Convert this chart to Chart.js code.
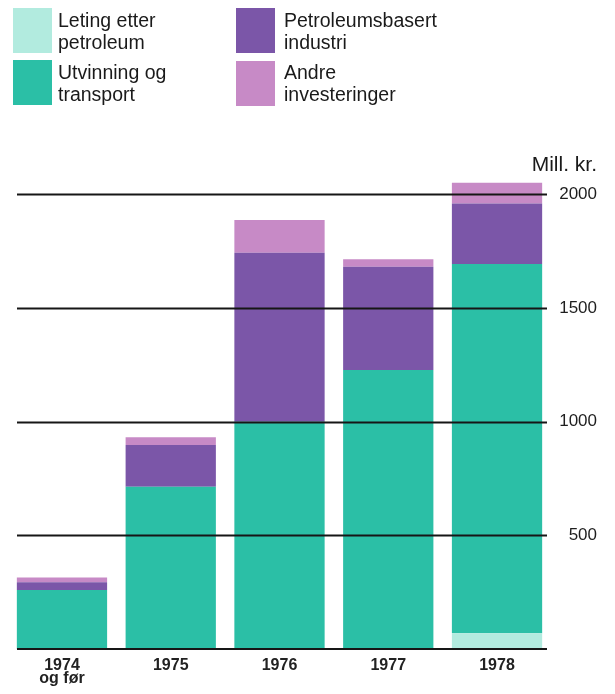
<!DOCTYPE html>
<html>
<head>
<meta charset="utf-8">
<script src="https://cdn.jsdelivr.net/npm/chart.js@4/dist/chart.umd.min.js"></script>
<style>
  html, body { margin: 0; padding: 0; background: #fff; }
  #wrap { position: relative; width: 615px; height: 694px; overflow: hidden; }
  canvas { position: absolute; left: 0; top: 0; }
  .sw { position: absolute; width: 39px; height: 45px; }
  .lt { position: absolute; font-family: 'Liberation Sans', Arial, sans-serif; font-size: 19.5px; line-height: 21.5px; color: #1a1a1a; white-space: nowrap; }
  #unit { position: absolute; right: 18px; top: 153px; font-family: 'Liberation Sans', Arial, sans-serif; font-size: 21px; line-height: 21px; color: #1a1a1a; }
</style>
</head>
<body>
<div id="wrap">
  <canvas id="c" width="615" height="694"></canvas>
  <div id="legend"></div>
  <div id="unit">Mill. kr.</div>
</div>
<script>
// ---- data ----
const categories = [["1974", "og før"], "1975", "1976", "1977", "1978"];
const seriesNames = [["Leting etter", "petroleum"], ["Utvinning og", "transport"], ["Petroleumsbasert", "industri"], ["Andre", "investeringer"]];
const letingEtterPetroleum = [0, 0, 0, 0, 69];
const utvinningOgTransport = [259, 714, 1000, 1227, 1624];
const petroleumsbasertIndustri = [35, 183, 743, 454, 267];
const andreInvesteringer = [20, 34, 144, 33, 91];
const yTickValues = [500, 1000, 1500, 2000];
const yTickLabels = ["500", "1000", "1500", "2000"];
const unitLabel = "Mill. kr.";

const colors = ["#b2ebdf", "#2bbfa6", "#7b56a8", "#c78ac6"];

// ---- legend (HTML) ----
const legendPos = [
  { sx: 13, sy: 8, tx: 58, ty: 10 },
  { sx: 13, sy: 60, tx: 58, ty: 62 },
  { sx: 236, sy: 8, tx: 284, ty: 10 },
  { sx: 236, sy: 61, tx: 284, ty: 62 }
];
const legendEl = document.getElementById('legend');
seriesNames.forEach((name, i) => {
  const p = legendPos[i];
  const sw = document.createElement('div');
  sw.className = 'sw';
  sw.style.left = p.sx + 'px';
  sw.style.top = p.sy + 'px';
  sw.style.background = colors[i];
  legendEl.appendChild(sw);
  const t = document.createElement('div');
  t.className = 'lt';
  t.style.left = p.tx + 'px';
  t.style.top = p.ty + 'px';
  t.innerHTML = name.join('<br>');
  legendEl.appendChild(t);
});
document.getElementById('unit').textContent = unitLabel;

// ---- gridlines drawn over bars ----
const gridPlugin = {
  id: 'gridOver',
  afterDatasetsDraw(chart) {
    const ctx = chart.ctx;
    const ys = chart.scales.y;
    ctx.save();
    ctx.strokeStyle = '#161616';
    yTickValues.forEach(v => {
      const py = Math.round(ys.getPixelForValue(v)) + 0.5;
      ctx.lineWidth = 1.8;
      ctx.beginPath();
      ctx.moveTo(17, py);
      ctx.lineTo(547, py);
      ctx.stroke();
    });
    const p0 = ys.getPixelForValue(0);
    ctx.lineWidth = 2;
    ctx.beginPath();
    ctx.moveTo(17, p0);
    ctx.lineTo(547, p0);
    ctx.stroke();
    ctx.restore();
  }
};

Chart.defaults.font.family = "'Liberation Sans', Arial, sans-serif";
Chart.defaults.color = '#1e1e1e';

new Chart(document.getElementById('c'), {
  type: 'bar',
  data: {
    labels: categories,
    datasets: [
      { label: seriesNames[0].join(' '), data: letingEtterPetroleum, backgroundColor: colors[0] },
      { label: seriesNames[1].join(' '), data: utvinningOgTransport, backgroundColor: colors[1] },
      { label: seriesNames[2].join(' '), data: petroleumsbasertIndustri, backgroundColor: colors[2] },
      { label: seriesNames[3].join(' '), data: andreInvesteringer, backgroundColor: colors[3] }
    ]
  },
  options: {
    responsive: false,
    animation: false,
    events: [],
    layout: { padding: { left: 7.6, right: 18, top: 171.6, bottom: 0 } },
    datasets: { bar: { barPercentage: 0.83, categoryPercentage: 1, borderWidth: 0 } },
    plugins: { legend: { display: false }, tooltip: { enabled: false }, title: { display: false } },
    scales: {
      x: {
        stacked: true,
        grid: { display: false, drawTicks: false },
        border: { display: false },
        ticks: { padding: 10, font: { size: 16, weight: 'bold', lineHeight: 0.8 }, color: '#222', maxRotation: 0, autoSkip: false },
        afterFit(scale) { scale.height = 45; }
      },
      y: {
        stacked: true,
        position: 'right',
        min: 0,
        max: 2100,
        grid: { display: false, drawTicks: false },
        border: { display: false },
        ticks: {
          padding: 7.8,
          crossAlign: 'far',
          font: { size: 17 },
          color: '#1e1e1e',
          callback(value) {
            const i = yTickValues.indexOf(value);
            return i >= 0 ? yTickLabels[i] : '';
          }
        },
        afterBuildTicks(scale) { scale.ticks = yTickValues.map(v => ({ value: v })); },
        afterFit(scale) { scale.width = 45.6; }
      }
    }
  },
  plugins: [gridPlugin]
});
</script>
</body>
</html>
